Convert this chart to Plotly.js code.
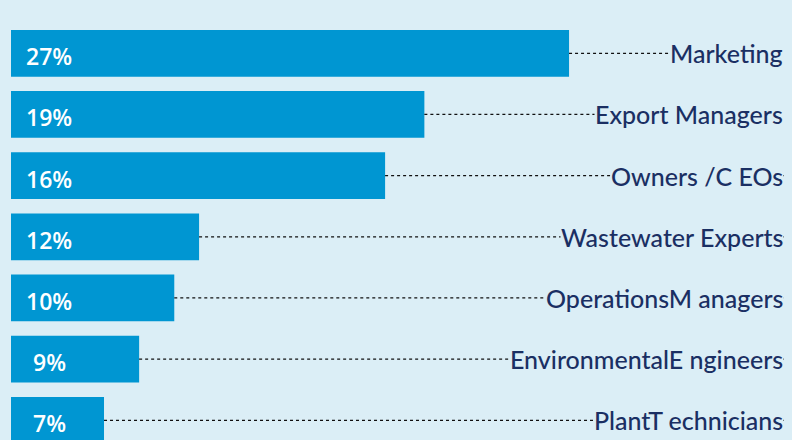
<!DOCTYPE html>
<html>
<head>
<meta charset="utf-8">
<script src="https://cdn.plot.ly/plotly-3.0.1.min.js"></script>
<style>
  html, body { margin: 0; padding: 0; background: #dbeef6; }
  #chart { width: 792px; height: 440px; }
</style>
</head>
<body>
<div id="chart"></div>
<script>
// ---- data ----
const categories = ["Marketing", "Export Managers", "Owners /C EOs", "Wastewater Experts",
                    "OperationsM anagers", "EnvironmentalE ngineers", "PlantT echnicians"];
const shares = [27, 19, 16, 12, 10, 9, 7];                 // printed percentages
const barLengths = [27, 20, 18.1, 9.1, 7.9, 6.2, 4.5];     // bar lengths as drawn (not to scale with labels)
const shareLabels = shares.map(v => v + "%");

// ---- styling ----
const BG = "#dbeef6";
const BAR = "#0096d2";
const NAVY = "#1a2f63";
const XMAX = 37.4;

const idx = categories.map((_, i) => i);

const trace = {
  type: "bar",
  orientation: "h",
  x: barLengths,
  y: idx,
  width: 0.765,
  marker: { color: BAR, line: { width: 0 } },
  hoverinfo: "skip",
  showlegend: false
};

const shapes = idx.map(i => ({
  type: "line", xref: "x", yref: "y",
  x0: barLengths[i], x1: XMAX, y0: i, y1: i,
  line: { color: "#111111", width: 1.3, dash: "3px,3px" },
  layer: "above"
}));

const annotations = [];
idx.forEach(i => {
  annotations.push({
    xref: "paper", yref: "y", x: 1, y: i,
    xanchor: "right", yanchor: "middle",
    text: categories[i], showarrow: false,
    bgcolor: BG, borderpad: 0,
    font: { family: "Lato, 'Open Sans', sans-serif", size: 25, color: NAVY, weight: 500 }
  });
  annotations.push({
    xref: "x", yref: "y", x: 1.84, y: i,
    xanchor: "center", yanchor: "middle", yshift: -3,
    text: shareLabels[i], showarrow: false,
    font: { family: "'Open Sans', sans-serif", size: 23, color: "#ffffff", weight: 600 }
  });
});

const layout = {
  width: 792, height: 440,
  margin: { l: 11, r: 8, t: 0, b: 0, pad: 0 },
  paper_bgcolor: BG, plot_bgcolor: BG,
  xaxis: { range: [0, XMAX], visible: false, fixedrange: true },
  yaxis: { range: [6.322, -0.871], visible: false, fixedrange: true },
  shapes: shapes,
  annotations: annotations,
  showlegend: false
};

Plotly.newPlot("chart", [trace], layout, { displayModeBar: false, staticPlot: true });
</script>
</body>
</html>
